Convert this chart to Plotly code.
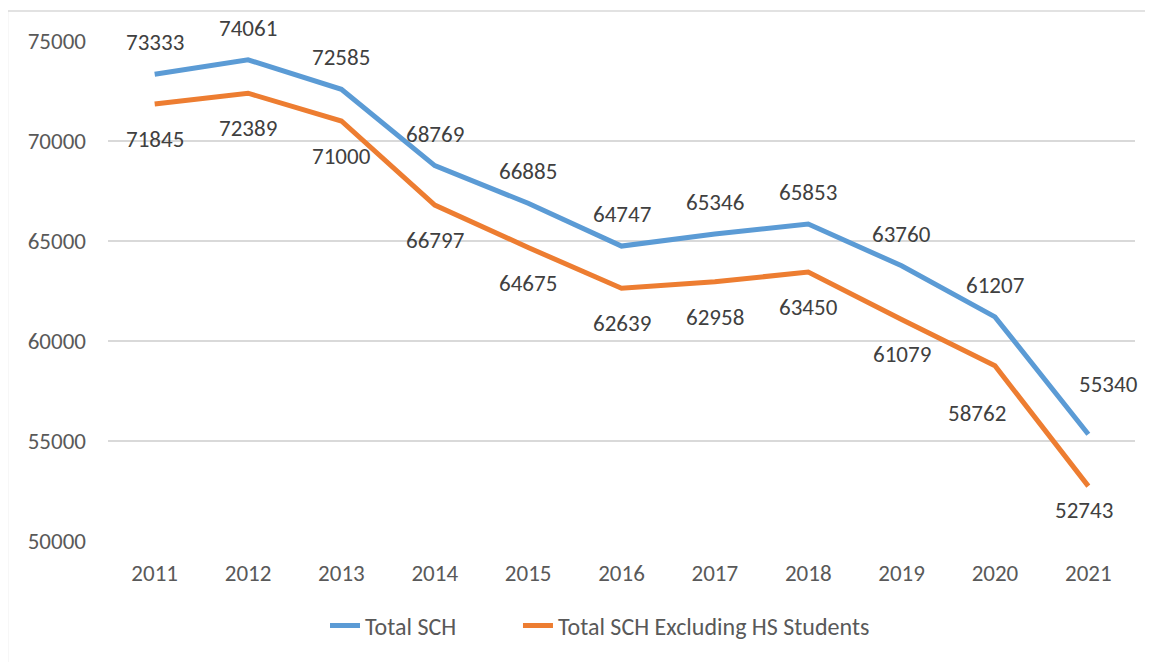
import plotly.graph_objects as go

years = ["2011", "2012", "2013", "2014", "2015", "2016", "2017", "2018", "2019", "2020", "2021"]
total_sch = [73333, 74061, 72585, 68769, 66885, 64747, 65346, 65853, 63760, 61207, 55340]
total_excl_hs = [71845, 72389, 71000, 66797, 64675, 62639, 62958, 63450, 61079, 58762, 52743]
y_ticks = [50000, 55000, 60000, 65000, 70000, 75000]

# label pixel offsets (dx, dy) relative to each point
blue_label_offsets = [(0, 32)] * 10 + [(20, 50)]
orange_label_offsets = [(0, -35)] * 9 + [(-18, -47), (-4, -24)]

BLUE = "#5B9BD5"
ORANGE = "#ED7D31"
FONT = "Carlito, Calibri, Liberation Sans, Arial, sans-serif"

fig = go.Figure()
fig.add_trace(go.Scatter(x=years, y=total_sch, mode="lines", name="Total SCH",
                         line=dict(color=BLUE, width=5), legend="legend"))
fig.add_trace(go.Scatter(x=years, y=total_excl_hs, mode="lines", name="Total SCH Excluding HS Students",
                         line=dict(color=ORANGE, width=5), legend="legend2"))

for i, (v, (dx, dy)) in enumerate(zip(total_sch, blue_label_offsets)):
    fig.add_annotation(x=i, y=v, xref="x", yref="y", text=str(v), showarrow=False,
                       xshift=dx, yshift=dy,
                       font=dict(size=23, color="#404040", family=FONT))
for i, (v, (dx, dy)) in enumerate(zip(total_excl_hs, orange_label_offsets)):
    fig.add_annotation(x=i, y=v, xref="x", yref="y", text=str(v), showarrow=False,
                       xshift=dx, yshift=dy,
                       font=dict(size=23, color="#404040", family=FONT))

# chart border (top and left edges visible)
fig.add_shape(type="rect", xref="paper", yref="paper",
              x0=-0.0979, x1=1.05, y0=-0.3, y1=1.06,
              line=dict(color="#D9D9D9", width=1.5), layer="below")

legend_font = dict(size=24, color="#595959", family=FONT)
fig.update_layout(
    width=1145, height=654,
    margin=dict(l=100, r=18, t=33, b=121),
    paper_bgcolor="white", plot_bgcolor="white",
    font=dict(family=FONT, size=23, color="#595959"),
    showlegend=True,
    legend=dict(orientation="h", x=0.2113, xanchor="left", y=-0.17, yanchor="middle",
                font=legend_font),
    legend2=dict(orientation="h", x=0.3992, xanchor="left", y=-0.17, yanchor="middle",
                 font=legend_font),
)
fig.update_xaxes(type="category", range=[-0.5, 10.5], showgrid=False, zeroline=False,
                 showline=False, ticks="", ticklabelstandoff=16,
                 tickfont=dict(size=23, color="#595959", family=FONT))
fig.update_yaxes(range=[50000, 75000], tickvals=y_ticks, ticktext=[str(t) for t in y_ticks],
                 showgrid=True, gridcolor="#D9D9D9", gridwidth=1.5, zeroline=False,
                 showline=False, ticks="", ticklabelstandoff=21,
                 tickfont=dict(size=23, color="#595959", family=FONT))

fig.write_html("out.html")
